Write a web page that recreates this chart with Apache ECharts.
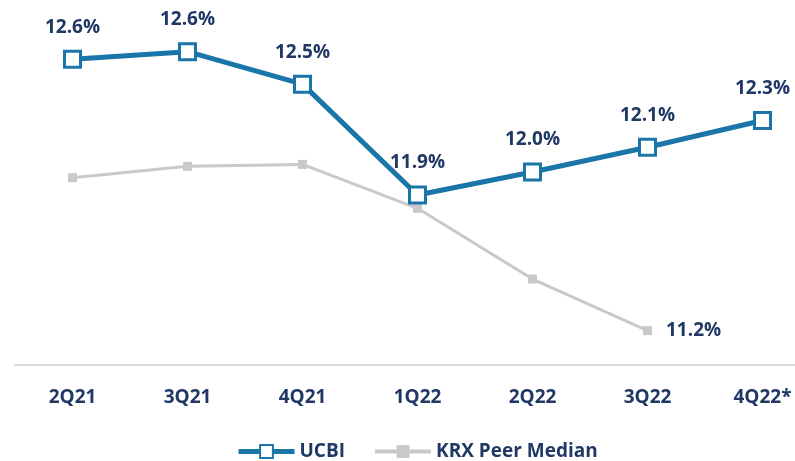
<!DOCTYPE html>
<html>
<head>
<meta charset="utf-8">
<script src="https://cdn.jsdelivr.net/npm/echarts@6/dist/echarts.min.js"></script>
<style>
  html, body { margin: 0; padding: 0; background: #fff; }
  #chart { width: 795px; height: 461px; }
</style>
</head>
<body>
<div id="chart"></div>
<script>
var quarters = ['2Q21', '3Q21', '4Q21', '1Q22', '2Q22', '3Q22', '4Q22*'];
var ucbi = [12.60, 12.64, 12.47, 11.89, 12.01, 12.14, 12.28];
var peerMedian = [11.98, 12.04, 12.05, 11.82, 11.45, 11.18, null];

var navy = '#203864';
var blue = '#1a76a9';
var grey = '#c9c9c9';
var font = '"Open Sans", sans-serif';

var chart = echarts.init(document.getElementById('chart'));

var option = {
    animation: false,
    grid: { left: 15, width: 805, top: 2, bottom: 96, outerBoundsMode: 'none', containLabel: false },
    legend: {
        top: 437,
        left: 231,
        itemWidth: 56,
        itemHeight: 16,
        itemGap: 28,
        textStyle: { color: navy, fontFamily: font, fontWeight: 'bold', fontSize: 19 },
        data: [
            { name: 'UCBI', lineStyle: { width: 5 } },
            { name: 'KRX Peer Median', lineStyle: { width: 4 } }
        ]
    },
    xAxis: {
        type: 'category',
        data: quarters,
        axisLine: { lineStyle: { color: '#d9d9d9', width: 2 } },
        axisTick: { length: 7, lineStyle: { color: '#d9d9d9', width: 2 } },
        axisLabel: {
            color: navy, fontFamily: font, fontWeight: 'bold', fontSize: 19, margin: 23
        }
    },
    yAxis: {
        type: 'value',
        min: 11,
        max: 12.9,
        show: false,
        splitLine: { show: false }
    },
    series: [
        {
            name: 'KRX Peer Median',
            type: 'line',
            data: peerMedian,
            symbol: 'rect',
            symbolSize: 9,
            lineStyle: { color: grey, width: 3 },
            itemStyle: { color: grey },
            label: {
                show: true,
                position: 'right',
                distance: 14,
                color: navy, fontFamily: font, fontWeight: 'bold', fontSize: 19,
                formatter: function (p) {
                    return p.dataIndex === 5 ? p.value.toFixed(1) + '%' : '';
                }
            },
            z: 1
        },
        {
            name: 'UCBI',
            type: 'line',
            data: ucbi,
            symbol: 'rect',
            symbolSize: 16,
            lineStyle: { color: blue, width: 5 },
            itemStyle: { color: '#fff', borderColor: blue, borderWidth: 3 },
            label: {
                show: true,
                position: 'top',
                distance: 13,
                color: navy, fontFamily: font, fontWeight: 'bold', fontSize: 19,
                formatter: function (p) { return p.value.toFixed(1) + '%'; }
            },
            z: 2
        }
    ]
};

chart.setOption(option);
</script>
</body>
</html>
